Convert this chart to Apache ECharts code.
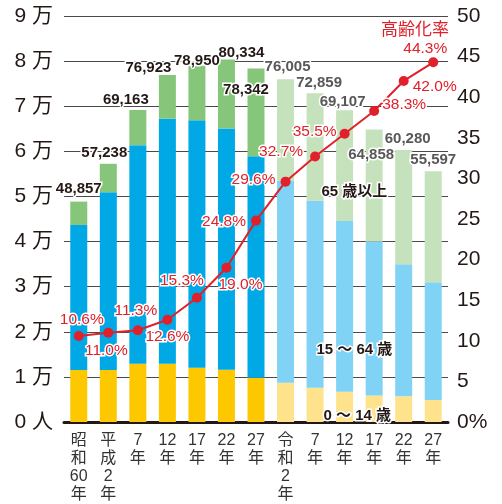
<!DOCTYPE html>
<html>
<head>
<meta charset="utf-8">
<script src="https://cdn.jsdelivr.net/npm/echarts@6/dist/echarts.min.js"></script>
<style>
  html, body { margin: 0; padding: 0; background: #fff; }
  #chart { width: 502px; height: 504px; }
</style>
</head>
<body>
<div id="chart"></div>
<script>
// 年次 (7 actual + 6 projected)
var years = ['昭\n和\n60\n年', '平\n成\n2\n年', '7\n年', '12\n年', '17\n年', '22\n年', '27\n年',
  '令\n和\n2\n年', '7\n年', '12\n年', '17\n年', '22\n年', '27\n年']
var actualCount = 7
var totalPop = [48857, 57238, 69163, 76923, 78950, 80334, 78342, 76005, 72859, 69107, 64858, 60280, 55597]
var age0to14 = [11550, 11500, 12900, 12900, 12000, 11570, 9800, 8700, 7600, 6700, 5900, 5700, 4900]
var age15to64 = [32130, 39440, 48450, 54330, 54870, 53500, 49110, 44810, 41430, 37870, 34120, 29260, 26070]
var agingRate = [10.6, 11.0, 11.3, 12.6, 15.3, 19.0, 24.8, 29.6, 32.7, 35.5, 38.3, 42.0, 44.3]

// 65歳以上 = total - others
var age65plus = totalPop.map(function (t, i) { return t - age0to14[i] - age15to64[i] })

// label nudges (px)
var totalLabelOffset = [[0, 0], [-4, 2], [-12, 2], [-19, 5], [0, 8], [15, 6], [-10, 34],
  [2, 0], [4, 2], [-2, 4], [-3, 38], [4, 1], [0, 1]]
var rateLabelOffset = [[3, -16], [-2, 18], [-2, -20], [0, 17], [-15, -17], [14, 17], [-32, 1],
  [-32, -2], [-34, -5], [-30, -2], [30, -6], [31, 6], [-8, -14]]

var FONT = "'Liberation Sans', Arial, 'Noto Sans CJK JP', sans-serif"
var RED = '#e0202a'

function pick(dark, light) {
  return function (p) { return p.dataIndex < actualCount ? dark : light }
}

var chart = echarts.init(document.getElementById('chart'))

chart.setOption({
  animation: false,
  textStyle: { fontFamily: FONT },
  grid: { left: 64, right: 54, top: 16, bottom: 76 },
  xAxis: {
    type: 'category',
    data: years,
    axisTick: { show: false },
    axisLine: { lineStyle: { color: '#231815', width: 3 } },
    axisLabel: {
      color: '#333',
      fontSize: 16,
      lineHeight: 18,
      margin: 10,
      fontFamily: FONT
    }
  },
  yAxis: [
    {
      type: 'value',
      min: 0,
      max: 90000,
      interval: 10000,
      axisLine: { show: false },
      axisTick: { show: false },
      splitLine: { lineStyle: { color: '#4a4a4a', width: 1 } },
      axisLabel: {
        color: '#231815',
        fontSize: 21,
        margin: 11,
        fontFamily: FONT,
        formatter: function (v) { return v === 0 ? '0 人' : (v / 10000) + ' 万' }
      }
    },
    {
      type: 'value',
      min: 0,
      max: 50,
      interval: 5,
      axisLine: { show: false },
      axisTick: { show: false },
      splitLine: { show: false },
      axisLabel: {
        color: '#231815',
        fontSize: 21,
        margin: 9,
        fontFamily: FONT,
        formatter: function (v) { return v === 0 ? '0%' : v }
      }
    }
  ],
  series: [
    {
      name: '0～14歳',
      type: 'bar',
      stack: 'pop',
      barWidth: 17,
      itemStyle: { color: pick('#fdc800', '#fee38c') },
      data: age0to14
    },
    {
      name: '15～64歳',
      type: 'bar',
      stack: 'pop',
      barWidth: 17,
      itemStyle: { color: pick('#00a8e6', '#80d3f5') },
      data: age15to64
    },
    {
      name: '65歳以上',
      type: 'bar',
      stack: 'pop',
      barWidth: 17,
      itemStyle: { color: pick('#85c67a', '#c5e2bd') },
      data: age65plus.map(function (v, i) {
        return {
          value: v,
          label: {
            offset: totalLabelOffset[i],
            color: i < actualCount ? '#231815' : '#595757'
          }
        }
      }),
      label: {
        show: true,
        position: 'top',
        distance: 5,
        fontSize: 15,
        fontWeight: 'bold',
        fontFamily: FONT,
        textBorderColor: '#fff',
        textBorderWidth: 3,
        formatter: function (p) { return totalPop[p.dataIndex].toLocaleString('en-US') }
      },
      z: 3
    },
    {
      name: '高齢化率',
      type: 'line',
      yAxisIndex: 1,
      symbol: 'circle',
      symbolSize: 10,
      lineStyle: { color: RED, width: 2 },
      itemStyle: { color: RED },
      data: agingRate.map(function (v, i) {
        return { value: v, label: { offset: rateLabelOffset[i] } }
      }),
      label: {
        show: true,
        position: 'inside',
        fontSize: 15.5,
        color: RED,
        fontFamily: FONT,
        textBorderColor: '#fff',
        textBorderWidth: 3,
        formatter: function (p) { return p.value.toFixed(1) + '%' }
      },
      z: 10
    }
  ],
  graphic: [
    {
      type: 'text', left: 381, top: 22, z: 20,
      style: { text: '高齢化率', fill: RED, fontSize: 17, fontFamily: FONT }
    },
    {
      type: 'text', left: 320, top: 183, z: 20,
      style: { text: '65 歳以上', fill: '#231815', fontSize: 15, fontWeight: 'bold', fontFamily: FONT, stroke: '#fff', lineWidth: 3 }
    },
    {
      type: 'text', left: 315, top: 341, z: 20,
      style: { text: '15 ～ 64 歳', fill: '#231815', fontSize: 15, fontWeight: 'bold', fontFamily: FONT, stroke: '#fff', lineWidth: 3 }
    },
    {
      type: 'text', left: 322, top: 407, z: 20,
      style: { text: '0 ～ 14 歳', fill: '#231815', fontSize: 15, fontWeight: 'bold', fontFamily: FONT, stroke: '#fff', lineWidth: 3 }
    }
  ]
})
</script>
</body>
</html>
